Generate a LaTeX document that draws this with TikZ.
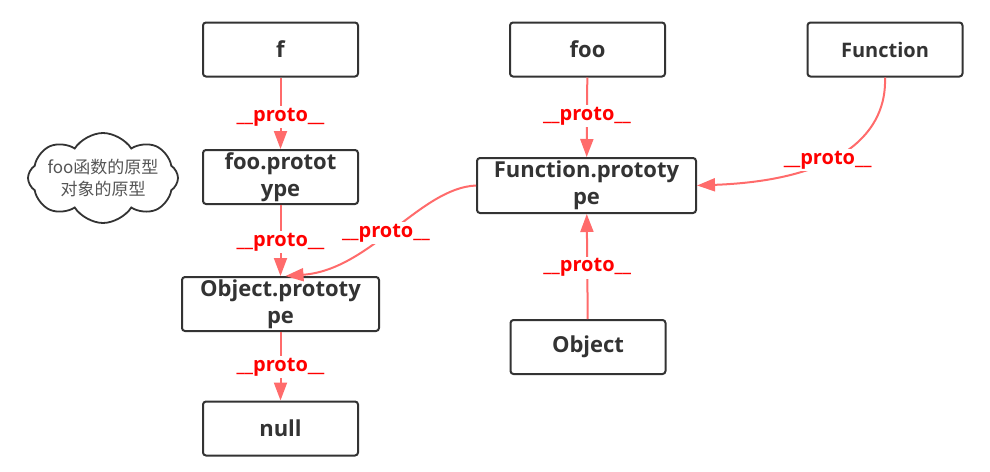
\documentclass[tikz,border=0pt]{standalone}
\usepackage{fontspec}
\setmainfont{Open Sans}
\newfontfamily\cjk{Noto Sans CJK SC}
\usetikzlibrary{shapes.symbols,arrows.meta}
\definecolor{boxgray}{HTML}{333333}
\definecolor{linered}{HTML}{FF6B6B}
\definecolor{labred}{HTML}{FF0000}
\definecolor{cloudtext}{HTML}{555555}
\begin{document}
\begin{tikzpicture}[x=1pt,y=-1pt,
 objbox/.style={draw=boxgray, line width=2pt, rounded corners=3pt, fill=white, text=boxgray,
   font=\bfseries\fontsize{22}{27}\selectfont, align=center,
   minimum width=155pt, minimum height=54pt, inner sep=0pt},
 link/.style={draw=linered, line width=2pt, -{Triangle[length=18pt,width=13pt]}},
 protolbl/.style={fill=white, text=labred, font=\bfseries\fontsize{20}{20}\selectfont, inner sep=2pt}]
\useasboundingbox (0,0) rectangle (990,471);

\node[objbox] (f) at (280.5,49.5) {f};
\node[objbox] (foo) at (587.5,49.5) {foo};
\node[objbox, font=\bfseries\fontsize{20}{24}\selectfont] (Fn) at (885,49.5) {Function};
\node[objbox] (foop) at (280.5,177) {foo.protot\\ype};
\node[objbox, minimum width=219pt, minimum height=55pt] (fnp) at (586.5,185.5) {Function.prototy\\pe};
\node[objbox, minimum width=197pt] (objp) at (280.5,304) {Object.prototy\\pe};
\node[objbox] (obj) at (588,347) {Object};
\node[objbox] (null) at (280.5,428.5) {null};

\node[cloud, cloud puffs=8, cloud puff arc=115, aspect=1.6, draw=boxgray, line width=1.8pt,
      minimum width=150pt, minimum height=90pt, inner sep=0pt] (note) at (103,178) {};
\node[text=cloudtext, align=center, font=\cjk\fontsize{17}{22}\selectfont, inner sep=0pt]
      (notetext) at (note.center) {foo函数的原型\\对象的原型};

\draw[link] (f) -- node[protolbl, pos=0.55] {\_\_proto\_\_} (foop);
\draw[link] (foop) -- node[protolbl, pos=0.52] {\_\_proto\_\_} (objp);
\draw[link] (objp) -- node[protolbl, pos=0.51] {\_\_proto\_\_} (null);
\draw[link] (foo) -- node[protolbl, pos=0.49] {\_\_proto\_\_} (fnp);
\draw[link] (obj) -- node[protolbl, pos=0.49] {\_\_proto\_\_} (fnp);
\draw[link] (Fn.south) .. controls (887,130) and (845,180) .. (fnp.east)
      node[protolbl, pos=0.6] {\_\_proto\_\_};
\draw[link] (fnp.west) .. controls (420,188) and (370,270) .. ([xshift=5pt]objp.north)
      node[protolbl, pos=0.53] {\_\_proto\_\_};
\end{tikzpicture}
\end{document}
